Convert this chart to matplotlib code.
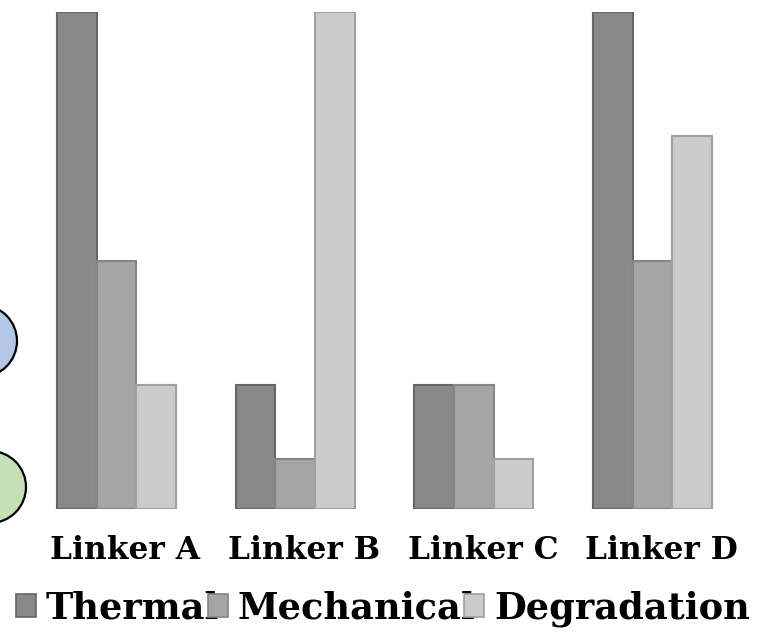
import matplotlib
matplotlib.use("Agg")
import matplotlib.pyplot as plt
from matplotlib.patches import Ellipse, Patch
from matplotlib.transforms import ScaledTranslation
import numpy as np

categories = ["Linker A", "Linker B", "Linker C", "Linker D"]
series_names = ["Thermal", "Mechanical", "Degradation"]
thermal = [100, 25, 25, 100]
mechanical = [50, 10, 25, 50]
degradation = [25, 100, 10, 75]

colors = ["#898989", "#a5a5a5", "#cbcbcb"]
edges = ["#666666", "#858585", "#a0a0a0"]

W, H = 766, 633
fig = plt.figure(figsize=(W / 100, H / 100), dpi=100)
ax = fig.add_axes([0, 124 / H, 1, 497 / H])

x = np.arange(len(categories))
bw = 0.222
for i, (vals, c, e) in enumerate(zip([thermal, mechanical, degradation], colors, edges)):
    ax.bar(x + (i - 1) * bw, vals, width=bw, color=c, edgecolor=e, linewidth=1.5,
           label=series_names[i])

ax.set_xlim(-116.5 / 178.67, (W - 116.5) / 178.67)
ax.set_ylim(0, 100)
for s in ax.spines.values():
    s.set_visible(False)
ax.set_yticks([])
ax.set_xticks(x)
ax.set_xticklabels(categories, fontfamily="DejaVu Serif", fontweight="bold", fontsize=22.5)
ax.tick_params(axis="x", length=0, pad=19)
offset = ScaledTranslation(9 / 100, 0, fig.dpi_scale_trans)
for lab in ax.get_xticklabels():
    lab.set_transform(lab.get_transform() + offset)
ax.patch.set_alpha(0)

# decorative circles at left edge
for cx, cy, fc in [(-19, 341, "#b4c7e7"), (-10, 487, "#c5e0b4")]:
    el = Ellipse((cx / W, 1 - cy / H), 72 / W, 72 / H, transform=fig.transFigure,
                 facecolor=fc, edgecolor="black", linewidth=1.6, zorder=5)
    fig.patches.append(el)

handles = [Patch(facecolor=c, edgecolor=e, linewidth=1.2) for c, e in zip(colors, edges)]
leg = fig.legend(handles, series_names, loc="center", bbox_to_anchor=(0.5, 1 - 609 / H),
                 ncol=3, frameon=False, handlelength=0.54, handleheight=0.6,
                 handletextpad=0.27, columnspacing=-0.3, borderpad=0, borderaxespad=0,
                 prop={"family": "DejaVu Serif", "weight": "bold", "size": 26.5})

fig.savefig("out.png", dpi=100)
